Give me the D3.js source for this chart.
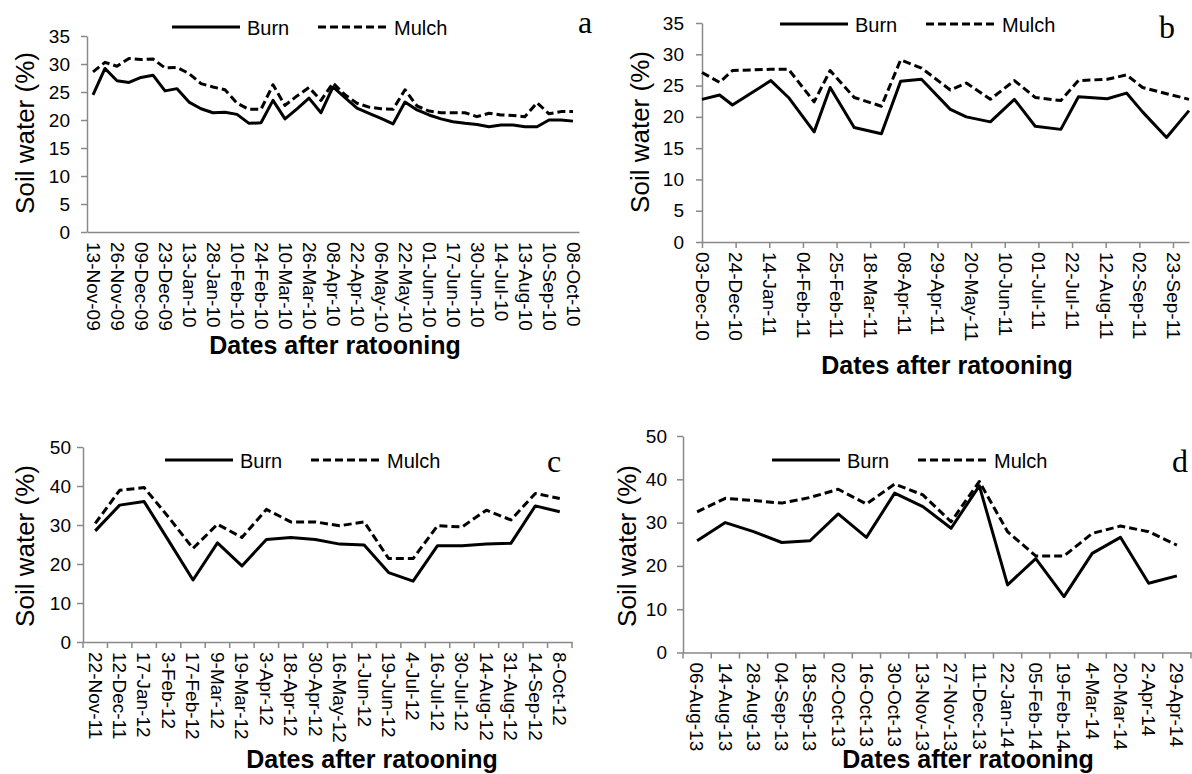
<!DOCTYPE html>
<html>
<head>
<meta charset="utf-8">
<script src="https://cdn.jsdelivr.net/npm/d3@7"></script>
<style>
body { margin: 0; background: #fff; }
svg text { font-family: Arial, "Liberation Sans", sans-serif; fill: #000; }
</style>
</head>
<body>
<svg id="chart" width="1192" height="774"></svg>
<script>
// ---- panel a : category axis, a label on every second reading
var aLabels = ["13-Nov-09","26-Nov-09","09-Dec-09","23-Dec-09","13-Jan-10","28-Jan-10","10-Feb-10",
  "24-Feb-10","10-Mar-10","26-Mar-10","08-Apr-10","22-Apr-10","06-May-10","22-May-10","01-Jun-10",
  "17-Jun-10","30-Jun-10","14-Jul-10","13-Aug-10","10-Sep-10","08-Oct-10"];
var aBurn = [24.5,29.2,27.0,26.7,27.6,28.0,25.2,25.6,23.2,22.0,21.3,21.4,21.0,19.4,19.5,23.5,20.2,22.0,
  23.9,21.3,25.9,24.0,22.1,21.2,20.3,19.3,23.2,21.8,20.9,20.2,19.7,19.4,19.2,18.8,19.1,19.1,18.8,18.8,
  20.0,20.0,19.8];
var aMulch = [28.6,30.3,29.6,31.0,30.8,30.9,29.3,29.4,28.3,26.5,25.9,25.4,23.0,21.9,21.9,26.3,22.6,24.3,
  25.8,23.5,26.6,24.5,23.0,22.3,22.0,21.9,25.4,22.5,21.6,21.3,21.3,21.3,20.6,21.2,20.9,20.8,20.6,23.1,
  21.1,21.5,21.5];

// ---- panel b : date axis, ticks every 21 days
var bTicks = ["03-Dec-10","24-Dec-10","14-Jan-11","04-Feb-11","25-Feb-11","18-Mar-11","08-Apr-11",
  "29-Apr-11","20-May-11","10-Jun-11","01-Jul-11","22-Jul-11","12-Aug-11","02-Sep-11","23-Sep-11"];
var bDates = ["03-Dec-10","14-Dec-10","22-Dec-10","15-Jan-11","26-Jan-11","11-Feb-11","21-Feb-11",
  "08-Mar-11","25-Mar-11","06-Apr-11","19-Apr-11","07-May-11","17-May-11","01-Jun-11","16-Jun-11",
  "29-Jun-11","15-Jul-11","26-Jul-11","13-Aug-11","25-Aug-11","04-Sep-11","19-Sep-11","03-Oct-11"];
var bBurn = [22.8,23.5,21.9,25.8,23.1,17.6,24.7,18.3,17.3,25.7,26.0,21.2,20.0,19.2,22.8,18.5,18.0,
  23.2,22.9,23.8,20.8,16.7,21.0];
var bMulch = [27.1,25.5,27.4,27.6,27.6,22.4,27.4,23.1,21.7,29.1,27.8,24.3,25.4,22.8,25.8,23.1,22.6,
  25.8,26.0,26.7,24.7,23.7,22.8];

// ---- panel c
var cLabels = ["22-Nov-11","12-Dec-11","17-Jan-12","3-Feb-12","17-Feb-12","9-Mar-12","19-Mar-12",
  "3-Apr-12","18-Apr-12","30-Apr-12","16-May-12","1-Jun-12","19-Jun-12","4-Jul-12","16-Jul-12",
  "30-Jul-12","14-Aug-12","31-Aug-12","14-Sep-12","8-Oct-12"];
var cBurn = [28.5,35.1,36.0,26.0,15.9,25.4,19.5,26.3,26.8,26.3,25.1,24.9,17.8,15.6,24.7,24.7,25.1,
  25.3,34.9,33.4];
var cMulch = [30.4,38.9,39.6,32.0,24.0,30.2,26.8,34.0,30.8,30.8,29.8,30.8,21.4,21.4,29.8,29.5,33.8,
  31.3,38.1,36.8];

// ---- panel d
var dLabels = ["06-Aug-13","14-Aug-13","28-Aug-13","04-Sep-13","18-Sep-13","02-Oct-13","16-Oct-13",
  "30-Oct-13","13-Nov-13","27-Nov-13","11-Dec-13","22-Jan-14","05-Feb-14","19-Feb-14","4-Mar-14",
  "20-Mar-14","2-Apr-14","29-Apr-14"];
var dBurn = [25.8,30.0,27.9,25.4,25.8,32.0,26.6,36.8,33.7,28.7,38.5,15.6,21.7,12.9,22.9,26.6,16.0,17.7];
var dMulch = [32.5,35.6,35.1,34.5,35.8,37.7,34.3,38.9,36.4,30.2,39.5,27.9,22.3,22.3,27.5,29.2,27.9,24.8];

var svg = d3.select("#chart");
var grey = "#898989";
var parseDay = d3.timeParse("%d-%b-%y");

function styleAxis(g) {
  g.select(".domain").attr("stroke", grey).attr("stroke-width", 1.5);
  g.selectAll(".tick line").attr("stroke", grey).attr("stroke-width", 1.5);
  g.selectAll(".tick text").attr("font-size", 19).attr("fill", "#000")
    .attr("font-family", "Arial, 'Liberation Sans', sans-serif");
}

function drawY(y, x0, n, pad) {
  var g = svg.append("g").attr("transform", "translate(" + x0 + ",0)")
    .call(d3.axisLeft(y).ticks(n).tickSize(6).tickSizeOuter(0).tickPadding(pad));
  styleAxis(g);
}

function drawX(axis, y0) {
  var g = svg.append("g").attr("transform", "translate(0," + y0 + ")").call(axis);
  styleAxis(g);
  // labels run downwards
  g.selectAll(".tick text")
    .attr("transform", "rotate(90)")
    .attr("x", 10).attr("y", 0).attr("dy", "0.35em")
    .style("text-anchor", "start");
  return g;
}

function drawLines(xf, y, burn, mulch) {
  var line = d3.line().x(function(d, i) { return xf(i); }).y(function(d) { return y(d); });
  svg.append("path").datum(mulch).attr("d", line)
    .attr("fill", "none").attr("stroke", "#000").attr("stroke-width", 3)
    .attr("stroke-dasharray", "8,4").attr("stroke-linejoin", "round");
  svg.append("path").datum(burn).attr("d", line)
    .attr("fill", "none").attr("stroke", "#000").attr("stroke-width", 3)
    .attr("stroke-linejoin", "round");
}

function legend(x, y) {
  svg.append("line").attr("x1", x).attr("x2", x + 68).attr("y1", y).attr("y2", y)
    .attr("stroke", "#000").attr("stroke-width", 3);
  svg.append("text").attr("x", x + 75).attr("y", y + 8).attr("font-size", 20).text("Burn");
  svg.append("line").attr("x1", x + 146).attr("x2", x + 214).attr("y1", y).attr("y2", y)
    .attr("stroke", "#000").attr("stroke-width", 3).attr("stroke-dasharray", "8,4");
  svg.append("text").attr("x", x + 222).attr("y", y + 8).attr("font-size", 20).text("Mulch");
}

function titles(yx, yy, xx, xy, letter, lx, ly) {
  svg.append("text").attr("transform", "translate(" + yx + "," + yy + ") rotate(-90)")
    .attr("text-anchor", "middle").attr("dy", "0.35em").attr("font-size", 26)
    .text("Soil water (%)");
  svg.append("text").attr("x", xx).attr("y", xy).attr("text-anchor", "middle")
    .attr("font-size", 25).attr("font-weight", "bold").text("Dates after ratooning");
  svg.append("text").attr("x", lx).attr("y", ly).attr("text-anchor", "middle")
    .attr("font-size", 32).style("font-family", "'Times New Roman', 'Liberation Serif', serif")
    .text(letter);
}

// ---------- a
var ya = d3.scaleLinear().domain([0, 35]).range([232, 36]);
var xa = d3.scalePoint().domain(d3.range(aBurn.length)).range([87, 579]).padding(0.5);
drawY(ya, 87, 7, 11);
drawX(d3.axisBottom(xa).tickValues(aLabels.map(function(d, i) { return i * 2; }))
  .tickFormat(function(i) { return aLabels[i / 2]; }).tickSize(0).tickSizeOuter(0), 232);
drawLines(function(i) { return xa(i); }, ya, aBurn, aMulch);
legend(172, 27);
titles(25, 133, 335, 354, "a", 585, 33);

// ---------- b
var yb = d3.scaleLinear().domain([0, 35]).range([242, 23]);
var xb = d3.scaleTime().domain([parseDay("03-Dec-10"), parseDay("03-Oct-11")]).range([702, 1189]);
drawY(yb, 702, 7, 12);
drawX(d3.axisBottom(xb).tickValues(bTicks.map(parseDay)).tickFormat(d3.timeFormat("%d-%b-%y"))
  .tickSize(6).tickSizeOuter(0), 242);
drawLines(function(i) { return xb(parseDay(bDates[i])); }, yb, bBurn, bMulch);
legend(780, 24);
titles(640, 132, 947, 374, "b", 1167, 38);

// ---------- c
var yc = d3.scaleLinear().domain([0, 50]).range([642, 447]);
var xc = d3.scaleBand().domain(cLabels).range([83, 572]);
drawY(yc, 83, 5, 6);
drawX(d3.axisBottom(xc).tickSize(0).tickSizeOuter(0), 642);
svg.append("g").selectAll("line").data(d3.range(cLabels.length + 1)).enter().append("line")
  .attr("x1", function(i) { return xc.range()[0] + i * xc.step(); })
  .attr("x2", function(i) { return xc.range()[0] + i * xc.step(); })
  .attr("y1", 642).attr("y2", 648).attr("stroke", grey).attr("stroke-width", 1.5);
drawLines(function(i) { return xc(cLabels[i]) + xc.bandwidth() / 2; }, yc, cBurn, cMulch);
legend(165, 460);
titles(25, 546, 372, 768, "c", 554, 472);

// ---------- d
var yd = d3.scaleLinear().domain([0, 50]).range([652.5, 436]);
var xd = d3.scaleBand().domain(dLabels).range([683, 1191]);
drawY(yd, 683, 5, 10);
drawX(d3.axisBottom(xd).tickSize(0).tickSizeOuter(0), 652.5);
svg.append("g").selectAll("line").data(d3.range(dLabels.length + 1)).enter().append("line")
  .attr("x1", function(i) { return xd.range()[0] + i * xd.step(); })
  .attr("x2", function(i) { return xd.range()[0] + i * xd.step(); })
  .attr("y1", 652.5).attr("y2", 658.5).attr("stroke", grey).attr("stroke-width", 1.5);
drawLines(function(i) { return xd(dLabels[i]) + xd.bandwidth() / 2; }, yd, dBurn, dMulch);
legend(772, 460);
titles(627, 546, 968, 768, "d", 1180, 472);
</script>
</body>
</html>
